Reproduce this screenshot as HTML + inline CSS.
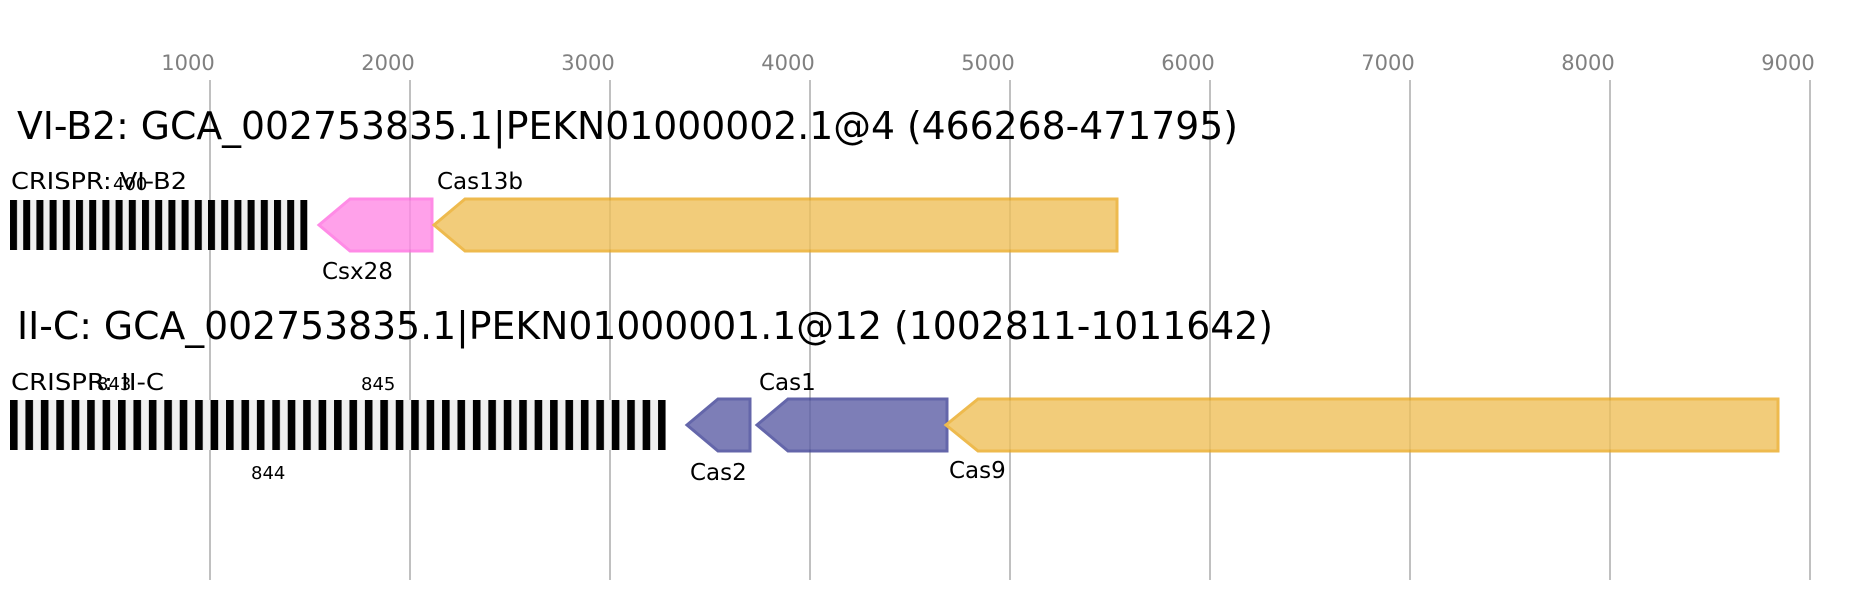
<!DOCTYPE html>
<html><head><meta charset="utf-8"><style>
html,body{margin:0;padding:0;background:#fff;}
svg{display:block;font-family:"DejaVu Sans","Liberation Sans",sans-serif;}
</style></head><body>
<svg width="1866" height="600" viewBox="0 0 1866 600" xmlns="http://www.w3.org/2000/svg">
<defs>
<pattern id="p1" patternUnits="userSpaceOnUse" x="10" y="0" width="13.2" height="600">
<rect x="0" y="0" width="13.2" height="600" fill="#efefef"/>
<rect x="0" y="0" width="7" height="600" fill="#000"/>
</pattern>
<pattern id="p2" patternUnits="userSpaceOnUse" x="10" y="0" width="15.43" height="600">
<rect x="0" y="0" width="15.43" height="600" fill="#efefef"/>
<rect x="0" y="0" width="7.6" height="600" fill="#000"/>
</pattern>
</defs>
<rect width="1866" height="600" fill="#fff"/>
<g stroke="#c0c0c0" stroke-width="2">
<line x1="210" y1="80" x2="210" y2="580"/>
<line x1="410" y1="80" x2="410" y2="580"/>
<line x1="610" y1="80" x2="610" y2="580"/>
<line x1="810" y1="80" x2="810" y2="580"/>
<line x1="1010" y1="80" x2="1010" y2="580"/>
<line x1="1210" y1="80" x2="1210" y2="580"/>
<line x1="1410" y1="80" x2="1410" y2="580"/>
<line x1="1610" y1="80" x2="1610" y2="580"/>
<line x1="1810" y1="80" x2="1810" y2="580"/>
</g>
<g fill="#808080" font-size="21" text-anchor="middle">
<text x="188" y="70">1000</text><text x="388" y="70">2000</text><text x="588" y="70">3000</text>
<text x="788" y="70">4000</text><text x="988" y="70">5000</text><text x="1188" y="70">6000</text>
<text x="1388" y="70">7000</text><text x="1588" y="70">8000</text><text x="1788" y="70">9000</text>
</g>
<text x="17" y="139" font-size="38" textLength="1221" lengthAdjust="spacingAndGlyphs">VI-B2: GCA_002753835.1|PEKN01000002.1@4 (466268-471795)</text>
<text x="17" y="339" font-size="38" textLength="1256" lengthAdjust="spacingAndGlyphs">II-C: GCA_002753835.1|PEKN01000001.1@12 (1002811-1011642)</text>
<rect x="10" y="200" width="297.4" height="50" fill="url(#p1)"/>
<rect x="10" y="400" width="655.7" height="50" fill="url(#p2)"/>
<g font-size="23">
<text x="11" y="189" textLength="176" lengthAdjust="spacingAndGlyphs">CRISPR: VI-B2</text>
<text x="11" y="390" textLength="153" lengthAdjust="spacingAndGlyphs">CRISPR: II-C</text>
<text x="437" y="189">Cas13b</text>
<text x="322" y="279">Csx28</text>
<text x="759" y="390">Cas1</text>
<text x="690" y="480">Cas2</text>
<text x="949" y="478">Cas9</text>
</g>
<g font-size="18">
<text x="113" y="190">400</text>
<text x="97" y="390">843</text>
<text x="361" y="390">845</text>
<text x="251" y="479">844</text>
</g>
<g stroke-width="3" opacity="0.8">
<polygon points="432,199 350,199 319,225 350,251 432,251" fill="#ff8ae6" stroke="#ff6fe0"/>
<polygon points="1117,199 465,199 434,225 465,251 1117,251" fill="#efc05a" stroke="#eaaa22"/>
<polygon points="750,399 718,399 687,425 718,451 750,451" fill="#5d5fa6" stroke="#3e4196"/>
<polygon points="947,399 788,399 757,425 788,451 947,451" fill="#5d5fa6" stroke="#3e4196"/>
<polygon points="1778,399 978,399 946,425 978,451 1778,451" fill="#efc05a" stroke="#eaaa22"/>
</g>
</svg>
</body></html>
